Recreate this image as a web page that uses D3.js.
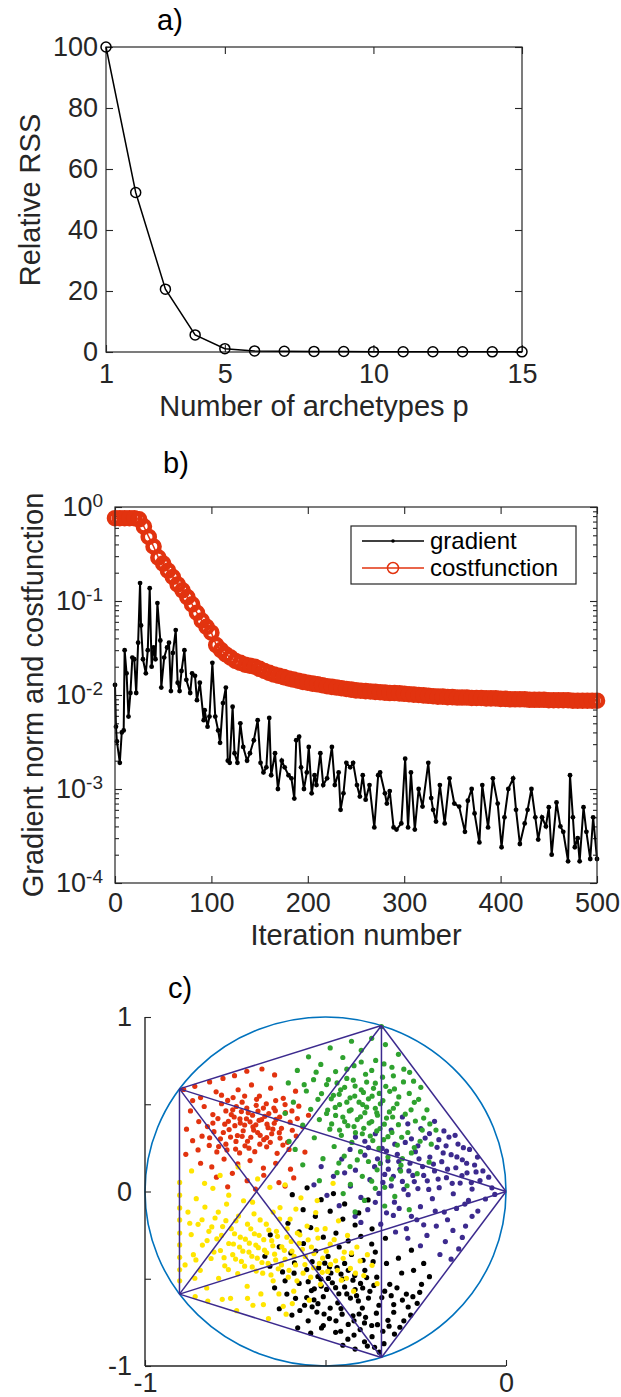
<!DOCTYPE html>
<html>
<head>
<meta charset="utf-8">
<script src="https://cdn.jsdelivr.net/npm/d3@7"></script>
<style>
  html, body { margin: 0; padding: 0; background: #fff; }
  svg { display: block; }
</style>
</head>
<body>
<svg id="fig" width="621" height="1397"></svg>
<script>
// ---- a) relative RSS ----
const archetypeCount = [1, 2, 3, 4, 5, 6, 7, 8, 9, 10, 11, 12, 13, 14, 15];
const relativeRSS = [100, 52.3, 20.6, 5.6, 1.1, 0.35, 0.25, 0.2, 0.15, 0.12, 0.1, 0.08, 0.07, 0.06, 0.05];
const aXTicks = [1, 5, 10, 15];
const aYTicks = [0, 20, 40, 60, 80, 100];

// ---- b) gradient norm and cost function ----
// cost function read every 5 iterations (0..500)
const costValues = [
  0.76, 0.76, 0.76, 0.76, 0.76, 0.74, 0.62, 0.48, 0.38, 0.29,
  0.25, 0.21, 0.18, 0.15, 0.13, 0.11, 0.092, 0.075, 0.062, 0.053,
  0.046, 0.034, 0.030, 0.027, 0.025, 0.023, 0.022, 0.021, 0.0205, 0.020,
  0.019, 0.018, 0.0172, 0.0165, 0.016, 0.0155, 0.015, 0.0146, 0.0142, 0.0138,
  0.0135, 0.0132, 0.013, 0.0127, 0.0124, 0.0122, 0.012, 0.0118, 0.0116, 0.0114,
  0.0112, 0.0111, 0.011, 0.0109, 0.0108, 0.0107, 0.0106, 0.0105, 0.0105, 0.0104,
  0.0103, 0.0102, 0.0101, 0.0100, 0.0099, 0.0098, 0.0097, 0.0096, 0.0096, 0.0095,
  0.0095, 0.0094, 0.0094, 0.0094, 0.0093, 0.0093, 0.0093, 0.0092, 0.0092, 0.0092,
  0.0091, 0.0091, 0.0090, 0.0090, 0.0090, 0.0090, 0.0089, 0.0089, 0.0089, 0.0089,
  0.0088, 0.0088, 0.0088, 0.0088, 0.0088, 0.0087, 0.0087, 0.0087, 0.0087, 0.0087,
  0.0087
];
const costStep = 5;
// gradient norm: [iteration, value]
const gradientPts = [
  [0,0.0128],[1,0.0046],[2,0.0032],[5,0.0019],[7,0.004],[9,0.0042],[10,0.030],[12,0.017],[14,0.0059],[16,0.0105],
  [18,0.025],[20,0.024],[22,0.0105],[24,0.036],[26,0.155],[27,0.055],[29,0.024],[32,0.017],[34,0.030],[36,0.137],
  [38,0.020],[40,0.032],[42,0.024],[44,0.095],[47,0.038],[48,0.012],[51,0.025],[54,0.032],[56,0.036],[58,0.011],
  [60,0.028],[63,0.049],[65,0.0135],[67,0.011],[69,0.018],[72,0.030],[74,0.0145],[78,0.0105],[80,0.017],[83,0.016],
  [85,0.0088],[88,0.0135],[92,0.0054],[93,0.0069],[96,0.0046],[98,0.0059],[101,0.022],[104,0.0059],[107,0.0042],[109,0.0031],
  [112,0.0082],[115,0.012],[117,0.002],[119,0.0019],[122,0.0075],[124,0.0024],[127,0.0019],[130,0.005],[133,0.0028],[137,0.002],
  [140,0.0024],[144,0.0033],[148,0.0054],[151,0.0019],[154,0.0015],[157,0.0017],[160,0.0057],[162,0.0014],[166,0.0024],[169,0.001],
  [173,0.002],[176,0.0017],[180,0.0014],[183,0.0013],[186,0.00079],[188,0.0033],[191,0.0036],[193,0.0017],[196,0.001],[199,0.0015],
  [201,0.0028],[204,0.0009],[207,0.0014],[209,0.0011],[213,0.0024],[216,0.0011],[220,0.0013],[225,0.0028],[228,0.0011],[232,0.0015],
  [234,0.0006],[237,0.0009],[240,0.0019],[244,0.0017],[247,0.0019],[251,0.0011],[254,0.00083],[257,0.0014],[260,0.00077],[264,0.0011],
  [269,0.00039],[273,0.0014],[275,0.0015],[280,0.0009],[282,0.0007],[285,0.00095],[289,0.00039],[292,0.00037],[297,0.00043],[301,0.0021],
  [304,0.00039],[307,0.0015],[311,0.00037],[315,0.001],[319,0.00065],[325,0.0019],[328,0.0008],[330,0.0006],[333,0.00045],[337,0.0011],
  [342,0.00043],[347,0.0013],[352,0.0007],[357,0.00065],[363,0.00035],[366,0.00075],[370,0.001],[373,0.00055],[378,0.00027],[381,0.0011],
  [387,0.00039],[392,0.0013],[397,0.0007],[401,0.00024],[404,0.0005],[408,0.001],[413,0.0013],[416,0.0006],[420,0.00026],[425,0.00043],
  [428,0.0006],[432,0.001],[436,0.0005],[439,0.00029],[443,0.0005],[447,0.0004],[450,0.00064],[453,0.0002],[458,0.00072],[462,0.0004],
  [465,0.00035],[470,0.00017],[472,0.0014],[475,0.0005],[477,0.00024],[480,0.0003],[482,0.00017],[486,0.00064],[489,0.00035],[493,0.00018],
  [496,0.0005],[500,0.00018]
];
const bXTicks = [0, 100, 200, 300, 400, 500];
const bYMajor = [1e-4, 1e-3, 1e-2, 1e-1, 1];
const legendLabels = ["gradient", "costfunction"];

// ---- c) archetypes and data points ----
const archX = [0, -0.345, -0.9045, -0.9045, -0.345];
const archY = [0, 0.951, 0.588, -0.588, -0.951];
const cXTicks = [-1, -0.5, 0];
const cYTicks = [-1, -0.5, 0, 0.5, 1];

const purplePts = [
  [-0.512,0.143],[-0.478,0.087],[-0.455,0.186],[-0.431,0.031],[-0.417,0.122],[-0.402,-0.034],[-0.391,0.208],[-0.377,0.068],[-0.364,0.142],[-0.352,-0.011],
  [-0.343,0.247],[-0.336,0.098],[-0.327,0.176],[-0.318,0.032],[-0.309,-0.061],[-0.301,0.213],[-0.294,0.127],[-0.287,0.058],[-0.279,0.281],[-0.271,-0.018],
  [-0.266,0.162],[-0.258,0.092],[-0.251,0.228],[-0.244,0.017],[-0.237,-0.087],[-0.231,0.143],[-0.224,0.306],[-0.218,0.061],[-0.211,0.197],[-0.204,-0.041],
  [-0.198,0.118],[-0.191,0.253],[-0.185,0.022],[-0.178,0.171],[-0.171,-0.118],[-0.165,0.079],[-0.158,0.312],[-0.152,0.211],[-0.146,-0.013],[-0.139,0.136],
  [-0.133,0.272],[-0.127,0.048],[-0.121,0.182],[-0.114,-0.072],[-0.108,0.107],[-0.101,0.241],[-0.094,0.014],[-0.087,0.152],[-0.079,0.197],[-0.072,0.063],
  [-0.064,0.118],[-0.057,-0.043],[-0.048,0.082],[-0.039,0.021],[-0.031,-0.017],
  [-0.462,-0.081],[-0.418,-0.142],[-0.383,-0.104],[-0.347,-0.187],[-0.312,-0.137],[-0.276,-0.213],[-0.247,-0.162],[-0.219,-0.252],[-0.193,-0.198],[-0.168,-0.287],
  [-0.147,-0.223],[-0.131,-0.329],[-0.112,-0.198],[-0.094,-0.142],[-0.078,-0.112],[-0.183,-0.361],[-0.152,-0.388],[-0.237,-0.311],[-0.272,-0.268],[-0.306,-0.232],
  [-0.391,0.288],[-0.362,0.331],[-0.318,0.352],[-0.272,0.388],[-0.236,0.361],[-0.287,0.427],[-0.198,0.402],[-0.172,0.347],[-0.532,0.038],[-0.496,-0.022],
  [-0.341,0.052],[-0.326,0.128],[-0.312,0.087],[-0.297,0.172],[-0.283,0.013],[-0.269,0.118],[-0.254,0.057],[-0.241,0.187],[-0.228,0.092],[-0.214,0.012],
  [-0.201,0.157],[-0.188,0.071],[-0.174,0.221],[-0.162,0.128],[-0.149,0.047],[-0.136,0.198],[-0.122,0.091],[-0.109,0.162],[-0.096,0.051],[-0.083,0.112],
  [-0.356,0.187],[-0.331,0.232],[-0.308,0.271],[-0.262,0.302],[-0.244,0.262],[-0.212,0.332],[-0.186,0.297],[-0.166,0.262],[-0.141,0.322],[-0.118,0.251],
  [-0.362,-0.062],[-0.331,-0.122],[-0.296,-0.097],[-0.262,-0.142],[-0.228,-0.191],[-0.196,-0.112],[-0.162,-0.162],[-0.137,-0.097],[-0.121,-0.263],[-0.104,-0.051],
  [-0.432,0.241],[-0.417,0.312],[-0.447,0.107],[-0.381,0.252],[-0.402,-0.177]
];
const blackPts = [
  [-0.592,-0.018],[-0.551,0.021],[-0.512,-0.047],[-0.478,-0.012],[-0.447,-0.071],[-0.562,-0.104],[-0.528,-0.142],[-0.487,-0.113],[-0.452,-0.158],[-0.418,-0.192],
  [-0.604,-0.182],[-0.573,-0.231],[-0.541,-0.207],[-0.506,-0.262],[-0.471,-0.238],[-0.437,-0.283],[-0.402,-0.257],[-0.372,-0.301],[-0.628,-0.317],[-0.596,-0.352],
  [-0.561,-0.298],[-0.527,-0.341],[-0.493,-0.372],[-0.462,-0.318],[-0.428,-0.361],[-0.396,-0.394],[-0.362,-0.347],[-0.331,-0.412],[-0.654,-0.428],[-0.619,-0.461],
  [-0.586,-0.409],[-0.552,-0.448],[-0.521,-0.487],[-0.489,-0.432],[-0.457,-0.473],[-0.424,-0.508],[-0.391,-0.452],[-0.358,-0.491],[-0.322,-0.532],[-0.289,-0.467],
  [-0.641,-0.552],[-0.607,-0.588],[-0.573,-0.527],[-0.539,-0.568],[-0.506,-0.603],[-0.472,-0.551],[-0.441,-0.587],[-0.409,-0.627],[-0.377,-0.572],[-0.344,-0.608],
  [-0.311,-0.648],[-0.276,-0.588],[-0.246,-0.641],[-0.628,-0.672],[-0.593,-0.708],[-0.558,-0.652],[-0.524,-0.691],[-0.489,-0.728],[-0.457,-0.671],[-0.424,-0.712],
  [-0.392,-0.753],[-0.359,-0.697],[-0.327,-0.738],[-0.294,-0.778],[-0.264,-0.709],[-0.577,-0.781],[-0.541,-0.812],[-0.506,-0.768],[-0.472,-0.807],[-0.438,-0.846],
  [-0.404,-0.791],[-0.371,-0.832],[-0.338,-0.872],[-0.309,-0.817],[-0.452,-0.881],[-0.418,-0.903],[-0.384,-0.886],[-0.351,-0.921],[-0.234,-0.532],[-0.212,-0.488],
  [-0.256,-0.452],[-0.228,-0.412],[-0.298,-0.382],[-0.262,-0.336],[-0.334,-0.268],[-0.371,-0.214],[-0.408,-0.123],[-0.382,-0.048],[-0.653,-0.248],[-0.668,-0.371],
  [-0.532,-0.621],[-0.466,-0.638],[-0.398,-0.668],[-0.356,-0.763],[-0.492,-0.498],[-0.447,-0.412],[-0.512,-0.542],[-0.583,-0.612],[-0.548,-0.741],[-0.418,-0.562],
  [-0.537,-0.402],[-0.519,-0.438],[-0.502,-0.411],[-0.485,-0.467],[-0.468,-0.436],[-0.452,-0.502],[-0.437,-0.452],[-0.419,-0.481],[-0.403,-0.527],[-0.386,-0.493],
  [-0.548,-0.517],[-0.531,-0.558],[-0.513,-0.502],[-0.497,-0.561],[-0.481,-0.523],[-0.463,-0.586],[-0.447,-0.547],[-0.431,-0.611],[-0.414,-0.597],[-0.397,-0.553],
  [-0.381,-0.611],[-0.366,-0.538],[-0.352,-0.652],[-0.336,-0.571],[-0.318,-0.597],[-0.302,-0.552],[-0.287,-0.622],[-0.271,-0.662],[-0.258,-0.603],[-0.239,-0.578],
  [-0.552,-0.608],[-0.537,-0.661],[-0.521,-0.643],[-0.504,-0.702],[-0.487,-0.668],[-0.471,-0.741],[-0.454,-0.703],[-0.437,-0.762],[-0.421,-0.741],[-0.407,-0.702],
  [-0.389,-0.721],[-0.372,-0.768],[-0.341,-0.801],[-0.324,-0.772],[-0.311,-0.692],[-0.283,-0.741],[-0.458,-0.801],[-0.421,-0.823],[-0.392,-0.861],[-0.364,-0.893],
  [-0.612,-0.512],[-0.587,-0.468],[-0.571,-0.682],[-0.511,-0.782],[-0.368,-0.402]
];
const redPts = [
  [-0.893,0.585],[-0.862,0.603],[-0.821,0.628],[-0.784,0.648],[-0.752,0.664],[-0.718,0.689],[-0.676,0.702],[-0.641,0.668],
  [-0.846,0.538],[-0.803,0.571],[-0.771,0.522],[-0.742,0.583],[-0.705,0.611],[-0.683,0.547],[-0.652,0.592],[-0.617,0.534],[-0.583,0.575],
  [-0.874,0.462],[-0.836,0.487],[-0.812,0.441],[-0.788,0.503],[-0.757,0.468],[-0.731,0.512],[-0.714,0.452],[-0.692,0.494],[-0.668,0.431],[-0.643,0.478],[-0.611,0.452],[-0.574,0.489],[-0.547,0.437],
  [-0.885,0.357],[-0.851,0.401],[-0.827,0.372],[-0.798,0.418],[-0.779,0.386],[-0.753,0.427],[-0.736,0.392],[-0.719,0.417],[-0.701,0.371],[-0.684,0.408],[-0.662,0.386],[-0.637,0.413],[-0.622,0.362],[-0.598,0.397],[-0.563,0.371],
  [-0.868,0.291],[-0.842,0.317],[-0.809,0.343],[-0.791,0.302],[-0.767,0.355],[-0.744,0.321],[-0.728,0.348],[-0.707,0.311],[-0.688,0.338],[-0.671,0.297],[-0.649,0.331],[-0.626,0.306],[-0.605,0.282],[-0.581,0.318],
  [-0.887,0.213],[-0.853,0.238],[-0.822,0.264],[-0.801,0.227],[-0.776,0.271],[-0.749,0.243],[-0.723,0.262],[-0.696,0.228],[-0.663,0.256],[-0.634,0.219],[-0.601,0.241],[-0.557,0.226],
  [-0.846,0.162],[-0.815,0.141],[-0.781,0.186],[-0.743,0.158],[-0.709,0.177],[-0.672,0.134],[-0.638,0.162],[-0.597,0.128],
  [-0.802,0.082],[-0.758,0.104],[-0.717,0.062],[-0.671,0.093],[-0.629,0.051],[-0.588,0.078],
  [-0.771,0.027],[-0.694,0.014],[-0.612,0.031],
  [-0.776,0.462],[-0.761,0.441],[-0.747,0.487],[-0.733,0.458],[-0.718,0.478],[-0.702,0.437],[-0.687,0.461],[-0.672,0.478],[-0.657,0.447],[-0.639,0.463],
  [-0.769,0.402],[-0.751,0.377],[-0.737,0.416],[-0.724,0.381],[-0.709,0.399],[-0.693,0.382],[-0.677,0.412],[-0.659,0.366],[-0.642,0.391],[-0.627,0.427],
  [-0.783,0.338],[-0.763,0.312],[-0.748,0.287],[-0.731,0.316],[-0.716,0.288],[-0.699,0.352],[-0.681,0.322],[-0.663,0.309],[-0.646,0.357],[-0.628,0.337],
  [-0.812,0.392],[-0.821,0.308],[-0.796,0.258],[-0.773,0.238],[-0.738,0.221],[-0.712,0.248],[-0.682,0.271],[-0.653,0.282],[-0.618,0.266],[-0.592,0.351],
  [-0.578,0.418],[-0.593,0.462],[-0.612,0.498],[-0.638,0.521],[-0.664,0.503],[-0.691,0.528],[-0.724,0.547],[-0.756,0.538],[-0.788,0.552],[-0.868,0.521]
];
const greenPts = [
  [-0.345,0.945],[-0.372,0.878],[-0.428,0.861],[-0.334,0.842],[-0.487,0.823],[-0.401,0.809],[-0.298,0.786],[-0.547,0.772],[-0.452,0.768],[-0.361,0.751],
  [-0.513,0.728],[-0.421,0.721],[-0.316,0.712],[-0.267,0.683],[-0.578,0.694],[-0.472,0.687],[-0.389,0.672],[-0.441,0.648],[-0.342,0.655],[-0.533,0.641],
  [-0.603,0.622],[-0.497,0.613],[-0.418,0.604],[-0.362,0.621],[-0.284,0.628],[-0.236,0.597],[-0.458,0.583],[-0.553,0.576],[-0.395,0.568],[-0.322,0.574],
  [-0.478,0.551],[-0.432,0.537],[-0.371,0.546],[-0.297,0.542],[-0.521,0.528],[-0.589,0.512],[-0.407,0.512],[-0.348,0.503],[-0.254,0.511],[-0.461,0.498],
  [-0.386,0.483],[-0.312,0.477],[-0.541,0.471],[-0.494,0.467],[-0.434,0.462],[-0.219,0.468],[-0.358,0.451],[-0.279,0.443],[-0.612,0.448],[-0.472,0.436],
  [-0.403,0.428],[-0.331,0.421],[-0.517,0.412],[-0.447,0.401],[-0.251,0.404],[-0.379,0.392],[-0.298,0.383],[-0.563,0.381],[-0.421,0.372],[-0.349,0.361],
  [-0.488,0.357],[-0.194,0.352],[-0.272,0.338],[-0.398,0.331],[-0.456,0.322],[-0.327,0.314],[-0.531,0.308],[-0.369,0.292],[-0.238,0.288],[-0.427,0.281],
  [-0.301,0.266],[-0.476,0.258],[-0.352,0.247],[-0.584,0.241],[-0.403,0.228],[-0.262,0.221],[-0.448,0.203],[-0.327,0.197],[-0.507,0.188],[-0.381,0.172],
  [-0.213,0.168],[-0.291,0.151],[-0.432,0.143],[-0.357,0.124],[-0.468,0.108],[-0.246,0.102],[-0.398,0.087],[-0.317,0.071],[-0.517,0.062],[-0.431,0.041],
  [-0.274,0.033],[-0.362,0.018],[-0.451,-0.012],[-0.308,-0.028],[-0.392,-0.051],[-0.336,-0.083],[-0.268,-0.104],[-0.418,-0.117],[-0.601,0.287],[-0.563,0.153],
  [-0.492,0.641],[-0.468,0.622],[-0.447,0.597],[-0.423,0.638],[-0.401,0.583],[-0.386,0.627],[-0.367,0.591],[-0.351,0.562],[-0.333,0.603],[-0.309,0.588],
  [-0.484,0.531],[-0.462,0.557],[-0.441,0.512],[-0.419,0.547],[-0.397,0.498],[-0.381,0.531],[-0.362,0.477],[-0.341,0.521],[-0.323,0.456],[-0.302,0.503],
  [-0.497,0.447],[-0.473,0.482],[-0.452,0.427],[-0.429,0.468],[-0.412,0.412],[-0.391,0.452],[-0.372,0.401],[-0.356,0.437],[-0.337,0.386],[-0.314,0.427],
  [-0.483,0.387],[-0.461,0.352],[-0.438,0.377],[-0.417,0.337],[-0.394,0.362],[-0.376,0.318],[-0.358,0.347],[-0.339,0.297],[-0.316,0.338],[-0.289,0.311],
  [-0.441,0.701],[-0.401,0.742],[-0.372,0.694],[-0.338,0.731],[-0.312,0.663],[-0.283,0.701],[-0.256,0.632],[-0.526,0.684],[-0.559,0.612],[-0.511,0.561],
  [-0.268,0.562],[-0.242,0.528],[-0.263,0.468],[-0.228,0.421],[-0.211,0.387],[-0.232,0.352],[-0.207,0.271],[-0.254,0.252],[-0.287,0.188],[-0.348,0.161],
  [-0.412,0.181],[-0.463,0.163],[-0.372,0.059],[-0.292,0.117],[-0.336,0.024]
];
const yellowPts = [
  [-0.904,0.052],[-0.904,-0.021],[-0.904,-0.094],[-0.904,-0.163],[-0.904,-0.238],[-0.904,-0.306],[-0.904,-0.377],[-0.904,-0.449],[-0.904,-0.512],
  [-0.881,-0.118],[-0.872,-0.247],[-0.866,-0.362],[-0.858,-0.041],[-0.853,-0.188],[-0.847,-0.452],[-0.841,-0.307],[-0.834,-0.089],[-0.829,-0.553],[-0.823,-0.228],[-0.817,-0.384],
  [-0.812,0.018],[-0.806,-0.152],[-0.801,-0.271],[-0.796,-0.497],[-0.791,-0.338],[-0.785,-0.201],[-0.779,-0.426],[-0.774,-0.072],[-0.768,-0.298],[-0.763,-0.612],
  [-0.757,-0.362],[-0.752,-0.242],[-0.748,-0.168],[-0.743,-0.471],[-0.738,-0.318],[-0.733,-0.401],[-0.727,-0.053],[-0.722,-0.273],[-0.717,-0.543],[-0.712,-0.347],
  [-0.707,-0.214],[-0.703,-0.432],[-0.698,-0.128],[-0.693,-0.307],[-0.689,-0.382],[-0.684,-0.251],[-0.679,-0.587],[-0.674,-0.468],[-0.669,-0.336],[-0.664,-0.187],
  [-0.659,-0.412],[-0.654,0.024],[-0.649,-0.282],[-0.645,-0.512],[-0.641,-0.359],[-0.636,-0.228],[-0.631,-0.443],[-0.626,-0.092],[-0.621,-0.317],[-0.617,-0.658],
  [-0.612,-0.387],[-0.607,-0.262],[-0.603,-0.491],[-0.598,-0.158],[-0.593,-0.342],[-0.588,-0.571],[-0.583,-0.421],[-0.578,-0.238],[-0.573,-0.297],[-0.568,-0.036],
  [-0.562,-0.468],[-0.556,-0.372],[-0.551,-0.198],[-0.545,-0.623],[-0.539,-0.318],[-0.533,-0.437],[-0.527,-0.121],[-0.521,-0.267],[-0.514,-0.532],[-0.508,-0.382],
  [-0.501,-0.213],[-0.494,-0.458],[-0.487,-0.302],[-0.479,0.047],[-0.472,-0.397],[-0.464,-0.168],[-0.456,-0.508],[-0.448,-0.347],[-0.439,-0.252],[-0.431,-0.441],
  [-0.422,-0.571],[-0.413,-0.318],[-0.404,-0.398],[-0.394,-0.482],[-0.384,-0.362],[-0.371,-0.423],[-0.357,-0.528],[-0.871,0.118],[-0.792,0.092],[-0.742,0.141],
  [-0.688,0.072],[-0.612,0.038],[-0.861,-0.602],[-0.826,-0.628],[-0.786,-0.618],[-0.746,-0.683],[-0.701,-0.652],[-0.658,-0.728],[-0.609,-0.703],
  [-0.842,-0.162],[-0.828,-0.281],[-0.815,-0.203],[-0.809,-0.347],[-0.797,-0.118],[-0.788,-0.252],[-0.781,-0.379],[-0.776,-0.167],[-0.769,-0.448],[-0.761,-0.213],
  [-0.755,-0.301],[-0.749,-0.387],[-0.741,-0.141],[-0.736,-0.262],[-0.729,-0.342],[-0.724,-0.428],[-0.716,-0.187],[-0.711,-0.296],[-0.704,-0.371],[-0.697,-0.242],
  [-0.692,-0.456],[-0.686,-0.322],[-0.681,-0.163],[-0.676,-0.407],[-0.671,-0.276],[-0.663,-0.351],[-0.657,-0.221],[-0.651,-0.478],[-0.646,-0.311],[-0.638,-0.392],
  [-0.633,-0.257],[-0.627,-0.158],[-0.622,-0.421],[-0.614,-0.337],[-0.606,-0.213],[-0.601,-0.452],[-0.595,-0.286],[-0.587,-0.372],[-0.579,-0.512],[-0.571,-0.248],
  [-0.564,-0.331],[-0.557,-0.419],[-0.548,-0.277],[-0.541,-0.491],[-0.532,-0.356],[-0.524,-0.218],[-0.517,-0.412],[-0.509,-0.463],[-0.498,-0.342],[-0.486,-0.418],
  [-0.476,-0.276],[-0.467,-0.452],[-0.451,-0.383],[-0.442,-0.497],[-0.428,-0.352],[-0.417,-0.468],[-0.859,-0.392],[-0.876,-0.182],[-0.889,-0.421],[-0.862,-0.497],
  [-0.835,0.047],[-0.768,-0.021],[-0.702,-0.061],[-0.645,-0.118],[-0.582,-0.101],[-0.523,-0.052],[-0.716,-0.612],[-0.672,-0.648],[-0.629,-0.587],[-0.592,-0.642]
];

const FONT = '"Liberation Sans", Arial, Helvetica, sans-serif';
const INK = '#262626';
const TICK_FS = 27, LABEL_FS = 29;
const svg = d3.select('#fig').attr('font-family', FONT);

function styleAxis(g) {
  g.attr('font-family', FONT).attr('font-size', TICK_FS);
  g.select('.domain').remove();
  g.selectAll('line').attr('stroke', INK).attr('stroke-width', 1.1);
  g.selectAll('text').attr('fill', INK);
}

// ===== panel a =====
const xA = d3.scaleLinear().domain([1, 15]).range([106, 522]);
const yA = d3.scaleLinear().domain([0, 100]).range([352, 47]);

svg.append('g').attr('transform', 'translate(0,352)')
  .call(d3.axisBottom(xA).tickValues(aXTicks).tickSize(-7).tickSizeOuter(0).tickPadding(12))
  .call(styleAxis);
svg.append('g').attr('transform', 'translate(0,47)')
  .call(d3.axisTop(xA).tickValues(aXTicks).tickSize(-7).tickSizeOuter(0).tickFormat(''))
  .call(styleAxis);
svg.append('g').attr('transform', 'translate(106,0)')
  .call(d3.axisLeft(yA).tickValues(aYTicks).tickSize(-7).tickSizeOuter(0).tickPadding(8))
  .call(styleAxis);
svg.append('g').attr('transform', 'translate(522,0)')
  .call(d3.axisRight(yA).tickValues(aYTicks).tickSize(-7).tickSizeOuter(0).tickFormat(''))
  .call(styleAxis);
svg.append('rect').attr('x', 106).attr('y', 47).attr('width', 416).attr('height', 305)
  .attr('fill', 'none').attr('stroke', INK).attr('stroke-width', 1.2);

const rssPts = archetypeCount.map((p, i) => [p, relativeRSS[i]]);
svg.append('path').datum(rssPts)
  .attr('fill', 'none').attr('stroke', '#000').attr('stroke-width', 1.5)
  .attr('d', d3.line().x(d => xA(d[0])).y(d => yA(d[1])));
svg.append('g').selectAll('circle').data(rssPts)
  .join('circle').attr('cx', d => xA(d[0])).attr('cy', d => yA(d[1])).attr('r', 5)
  .attr('fill', 'none').attr('stroke', '#000').attr('stroke-width', 1.5);

svg.append('text').attr('x', 170).attr('y', 30).attr('font-size', LABEL_FS).attr('fill', '#000')
  .attr('text-anchor', 'middle').text('a)');
svg.append('text').attr('x', 314).attr('y', 416).attr('font-size', LABEL_FS).attr('fill', INK)
  .attr('text-anchor', 'middle').text('Number of archetypes p');
svg.append('text').attr('transform', 'translate(40,200) rotate(-90)').attr('font-size', LABEL_FS)
  .attr('fill', INK).attr('text-anchor', 'middle').text('Relative RSS');

// ===== panel b =====
const xB = d3.scaleLinear().domain([0, 500]).range([115, 597]);
const yB = d3.scaleLog().domain([1e-4, 1]).range([883, 507]);
const bYMinor = [];
for (let k = -4; k < 0; k++) for (let m = 2; m <= 9; m++) bYMinor.push(m * Math.pow(10, k));

function supLabels(g) {
  g.selectAll('.tick text').each(function(d) {
    const e = Math.round(Math.log10(d));
    const t = d3.select(this).text('10');
    t.append('tspan').attr('dy', '-0.5em').attr('font-size', 19).text(e);
  });
}

svg.append('g').attr('transform', 'translate(0,883)')
  .call(d3.axisBottom(xB).tickValues(bXTicks).tickSize(-7).tickSizeOuter(0).tickPadding(10))
  .call(styleAxis);
svg.append('g').attr('transform', 'translate(0,507)')
  .call(d3.axisTop(xB).tickValues(bXTicks).tickSize(-7).tickSizeOuter(0).tickFormat(''))
  .call(styleAxis);
svg.append('g').attr('transform', 'translate(115,0)')
  .call(d3.axisLeft(yB).tickValues(bYMajor).tickSize(-7).tickSizeOuter(0).tickPadding(12))
  .call(styleAxis).call(supLabels);
svg.append('g').attr('transform', 'translate(115,0)')
  .call(d3.axisLeft(yB).tickValues(bYMinor).tickSize(-4).tickSizeOuter(0).tickFormat(''))
  .call(styleAxis);
svg.append('g').attr('transform', 'translate(597,0)')
  .call(d3.axisRight(yB).tickValues(bYMajor).tickSize(-7).tickSizeOuter(0).tickFormat(''))
  .call(styleAxis);
svg.append('g').attr('transform', 'translate(597,0)')
  .call(d3.axisRight(yB).tickValues(bYMinor).tickSize(-4).tickSizeOuter(0).tickFormat(''))
  .call(styleAxis);

const costPts = costValues.map((v, i) => [i * costStep, v]);
const COST = '#e2330f';
svg.append('path').datum(costPts).attr('fill', 'none').attr('stroke', COST).attr('stroke-width', 1.5)
  .attr('d', d3.line().x(d => xB(d[0])).y(d => yB(d[1])));
svg.append('g').selectAll('circle').data(costPts).join('circle')
  .attr('cx', d => xB(d[0])).attr('cy', d => yB(d[1])).attr('r', 6)
  .attr('fill', 'none').attr('stroke', COST).attr('stroke-width', 4.6);

svg.append('path').datum(gradientPts).attr('fill', 'none').attr('stroke', '#000').attr('stroke-width', 2)
  .attr('d', d3.line().x(d => xB(d[0])).y(d => yB(d[1])));
svg.append('g').selectAll('circle').data(gradientPts).join('circle')
  .attr('cx', d => xB(d[0])).attr('cy', d => yB(d[1])).attr('r', 2.4).attr('fill', '#000');

svg.append('rect').attr('x', 115).attr('y', 507).attr('width', 482).attr('height', 376)
  .attr('fill', 'none').attr('stroke', INK).attr('stroke-width', 1.2);

// legend
const leg = svg.append('g');
leg.append('rect').attr('x', 351).attr('y', 526).attr('width', 225).attr('height', 58)
  .attr('fill', '#fff').attr('stroke', INK).attr('stroke-width', 1.2);
leg.append('line').attr('x1', 362).attr('x2', 424).attr('y1', 541).attr('y2', 541)
  .attr('stroke', '#000').attr('stroke-width', 1.5);
leg.append('circle').attr('cx', 393).attr('cy', 541).attr('r', 1.8).attr('fill', '#000');
leg.append('line').attr('x1', 362).attr('x2', 424).attr('y1', 568).attr('y2', 568)
  .attr('stroke', COST).attr('stroke-width', 1.5);
leg.append('circle').attr('cx', 393).attr('cy', 568).attr('r', 5.5)
  .attr('fill', 'none').attr('stroke', COST).attr('stroke-width', 1.5);
leg.selectAll('text').data(legendLabels).join('text')
  .attr('x', 430).attr('y', (d, i) => 549 + i * 27).attr('font-size', 24).attr('fill', '#000').text(d => d);

svg.append('text').attr('x', 176).attr('y', 473).attr('font-size', LABEL_FS).attr('fill', '#000')
  .attr('text-anchor', 'middle').text('b)');
svg.append('text').attr('x', 356).attr('y', 945).attr('font-size', LABEL_FS).attr('fill', INK)
  .attr('text-anchor', 'middle').text('Iteration number');
svg.append('text').attr('transform', 'translate(43,695) rotate(-90)').attr('font-size', LABEL_FS)
  .attr('fill', INK).attr('text-anchor', 'middle').text('Gradient norm and costfunction');

// ===== panel c =====
const xC = d3.scaleLinear().domain([-1, 0]).range([145, 506]);
const yC = d3.scaleLinear().domain([-1, 1]).range([1366, 1017]);
const intLabel = d => Number.isInteger(d) ? String(d) : '';

svg.append('ellipse').attr('cx', xC(-0.5)).attr('cy', yC(0))
  .attr('rx', xC(0) - xC(-0.5)).attr('ry', yC(0) - yC(1))
  .attr('fill', 'none').attr('stroke', '#0072bd').attr('stroke-width', 1.6);

const groups = [
  { pts: purplePts, color: '#3c2a8e' },
  { pts: blackPts, color: '#000000' },
  { pts: redPts, color: '#e2330f' },
  { pts: greenPts, color: '#2fa22f' },
  { pts: yellowPts, color: '#ffe500' }
];
groups.forEach(gr => {
  svg.append('g').selectAll('circle').data(gr.pts).join('circle')
    .attr('cx', d => xC(d[0])).attr('cy', d => yC(d[1])).attr('r', 2.6).attr('fill', gr.color);
});

const edges = [];
for (let i = 0; i < archX.length; i++)
  for (let j = i + 1; j < archX.length; j++) edges.push([i, j]);
svg.append('g').selectAll('line').data(edges).join('line')
  .attr('x1', d => xC(archX[d[0]])).attr('y1', d => yC(archY[d[0]]))
  .attr('x2', d => xC(archX[d[1]])).attr('y2', d => yC(archY[d[1]]))
  .attr('stroke', '#3c2a8e').attr('stroke-width', 1.5);

svg.append('g').attr('transform', 'translate(0,1366)')
  .call(d3.axisBottom(xC).tickValues(cXTicks).tickSize(-6).tickSizeOuter(0).tickPadding(7).tickFormat(intLabel))
  .call(styleAxis);
svg.append('g').attr('transform', 'translate(145,0)')
  .call(d3.axisLeft(yC).tickValues(cYTicks).tickSize(-6).tickSizeOuter(0).tickPadding(13).tickFormat(intLabel))
  .call(styleAxis);
svg.append('line').attr('x1', 145).attr('x2', 145).attr('y1', 1017).attr('y2', 1366)
  .attr('stroke', INK).attr('stroke-width', 1.4);
svg.append('line').attr('x1', 145).attr('x2', 506).attr('y1', 1366).attr('y2', 1366)
  .attr('stroke', INK).attr('stroke-width', 1.4);

svg.append('text').attr('x', 180).attr('y', 998).attr('font-size', LABEL_FS).attr('fill', '#000')
  .attr('text-anchor', 'middle').text('c)');
</script>
</body>
</html>
